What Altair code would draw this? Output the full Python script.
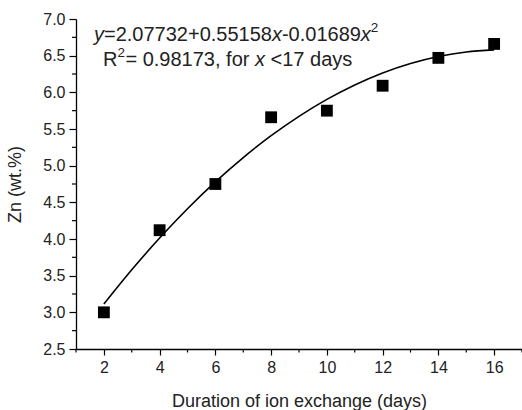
import altair as alt
import pandas as pd

# measured points
days = [2, 4, 6, 8, 10, 12, 14, 16]
zn = [3.00, 4.12, 4.75, 5.66, 5.75, 6.09, 6.47, 6.66]

# fitted curve read at integer days
fit_x = [2, 3, 4, 5, 6, 7, 8, 9, 10, 11, 12, 13, 14, 15, 16]
fit_y = [3.113, 3.580, 4.013, 4.413, 4.779, 5.111, 5.409, 5.673, 5.904,
         6.101, 6.264, 6.393, 6.489, 6.551, 6.579]

x_major = [2, 4, 6, 8, 10, 12, 14, 16]
x_minor = [1, 3, 5, 7, 9, 11, 13, 15, 17]
y_major = [2.5, 3.0, 3.5, 4.0, 4.5, 5.0, 5.5, 6.0, 6.5, 7.0]
y_minor = [2.75, 3.25, 3.75, 4.25, 4.75, 5.25, 5.75, 6.25, 6.75]

FONT = "Liberation Sans"
W, H = 446, 330

pts = pd.DataFrame({"d": days, "zn": zn})
fit = pd.DataFrame({"d": fit_x, "zn": fit_y})

xscale = alt.Scale(domain=[1, 17], nice=False, zero=False)
yscale = alt.Scale(domain=[2.5, 7.0], nice=False, zero=False)

xaxis = alt.Axis(
    values=x_major, format="d",
    tickSize=6,
    title="Duration of ion exchange (days)",
    titleFontSize=18, titleFont=FONT, titleFontWeight="normal", titleColor="#222",
    titlePadding=17,
    labelFont=FONT, labelFontSize=16, labelColor="#222", labelPadding=4,
    labelFlush=False, labelOverlap=False,
    domainColor="black", domainWidth=1.3, tickColor="black", tickWidth=1.2,
    grid=False,
)
yaxis = alt.Axis(
    values=y_major, format=".1f",
    tickSize=7,
    title="Zn (wt.%)",
    titleFontSize=18, titleFont=FONT, titleFontWeight="normal", titleColor="#222",
    titlePadding=18,
    labelFont=FONT, labelFontSize=16, labelColor="#222", labelPadding=4,
    labelFlush=False, labelOverlap=False,
    domainColor="black", domainWidth=1.3, tickColor="black", tickWidth=1.2,
    grid=False,
)


def X(field="d"):
    return alt.X(f"{field}:Q", scale=xscale, axis=xaxis, title="Duration of ion exchange (days)")


def Y(field="zn"):
    return alt.Y(f"{field}:Q", scale=yscale, axis=yaxis, title="Zn (wt.%)")


line = alt.Chart(fit).mark_line(color="black", strokeWidth=1.6, interpolate="monotone").encode(
    x=X(), y=Y(),
)
points = alt.Chart(pts).mark_square(size=140, color="black", opacity=1).encode(
    x=X(), y=Y(),
)

# minor ticks
xmin_ticks = alt.Chart(pd.DataFrame({"d": x_minor})).mark_rule(color="black", strokeWidth=1.2).encode(
    x=X(), y=alt.value(H), y2=alt.value(H + 3.5)
)
ymin_ticks = alt.Chart(pd.DataFrame({"zn": y_minor})).mark_rule(color="black", strokeWidth=1.2).encode(
    y=Y(), x=alt.value(0), x2=alt.value(-4)
)

one = alt.Data(values=[{"a": 1}])

# approximate Arial/Liberation Sans advance widths (em)
ADV = {" ": .278, ".": .278, ",": .278, "=": .584, "+": .584, "-": .333, "<": .584,
       "R": .722, "f": .278, "o": .556, "r": .333, "d": .556, "a": .556, "y": .5,
       "s": .5, "x": .5}


def width(s, size):
    return sum(ADV.get(c, .556) for c in s) * size


def txt(s, px, py, size, italic=False):
    kw = dict(font=FONT, fontSize=size, color="#222", align="left", baseline="alphabetic")
    if italic:
        kw["fontStyle"] = "italic"
    return alt.Chart(one).mark_text(**kw).encode(
        x=alt.value(px), y=alt.value(py), text=alt.value(s)
    )


def run(parts, x0, base, size=20, sup=13.5):
    """parts: list of (text, kind) with kind in 'n', 'i', 'sup', 'sp'"""
    out, x = [], x0
    for s, kind in parts:
        if kind == "sp":
            x += width(" ", size)
            continue
        if kind == "sup":
            out.append(txt(s, x, base - 9, sup))
            x += width(s, sup) + 0.5
            continue
        out.append(txt(s, x, base, size, italic=(kind == "i")))
        x += width(s, size)
    return out


L, T = 76, 19
ann = run([("y", "i"), ("=2.07732+0.55158", "n"), ("x", "i"), ("-0.01689", "n"),
           ("x", "i"), ("2", "sup")], 94 - L, 41 - T)
ann += run([("R", "n"), ("2", "sup"), ("= 0.98173, for", "n"), ("", "sp"), ("x", "i"),
            ("", "sp"), ("<17 days", "n")], 103 - L, 66 - T)

chart = alt.layer(line, points, xmin_ticks, ymin_ticks, *ann).properties(
    width=W, height=H,
    padding={"left": 76, "top": 19, "right": 0, "bottom": 61},
    autosize=alt.AutoSizeParams(type="none"),
    background="white",
).configure_view(stroke=None)

chart.save("out.html", embed_options={"renderer": "svg", "actions": False})
